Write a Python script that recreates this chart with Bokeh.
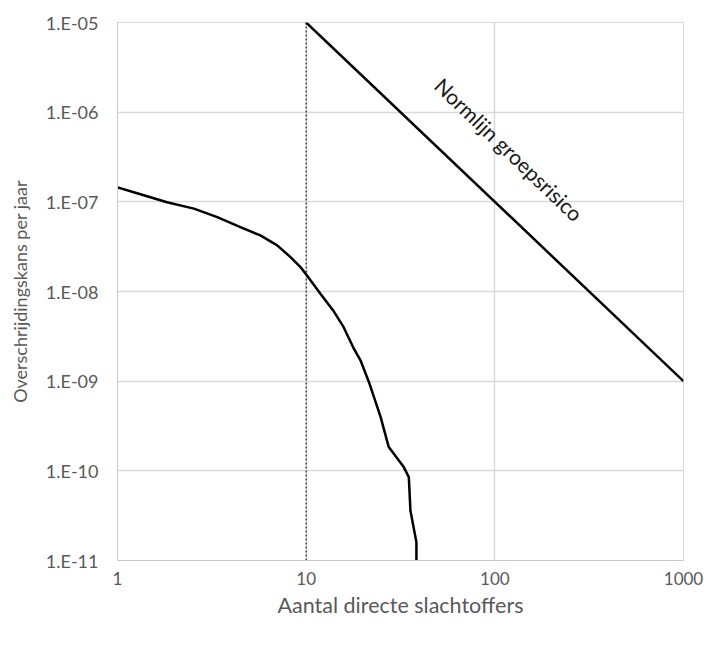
from bokeh.plotting import figure
from bokeh.models import FixedTicker, CustomJSTickFormatter, Range1d
from bokeh.core.properties import value
from bokeh.embed import file_html
from bokeh.resources import INLINE

# FN-curve
fn_x = [1.0, 1.22, 1.83, 2.54, 3.38, 4.48, 5.72, 7.02, 8.26, 9.33, 10.1, 11.9, 13.9,
        15.8, 17.9, 19.4, 21.5, 24.8, 27.4, 32.9, 35.0, 35.7, 38.4, 38.4]
fn_y = [1.45e-7, 1.28e-7, 9.9e-8, 8.4e-8, 6.75e-8, 5.22e-8, 4.22e-8, 3.27e-8, 2.42e-8, 1.87e-8, 1.51e-8, 9.45e-9, 6.15e-9,
        4.0e-9, 2.3e-9, 1.71e-9, 9.8e-10, 4.0e-10, 1.84e-10, 1.1e-10, 8.5e-11, 3.6e-11, 1.6e-11, 1.0e-11]

# Normlijn groepsrisico
norm_x = [10, 1000]
norm_y = [1e-5, 1e-9]

# vertical reference line at N = 10
ref_x = [10, 10]
ref_y = [1e-11, 1e-5]

x_ticks = [1, 10, 100, 1000]
y_ticks = [1e-11, 1e-10, 1e-9, 1e-8, 1e-7, 1e-6, 1e-5]

label_text = ["Normlijn groepsrisico"]
label_x = [119]
label_y = [3.85e-7]

FONT = "Lato"
GREY = "#595959"

p = figure(width=714, height=645, x_axis_type="log", y_axis_type="log",
           x_range=Range1d(1, 1000), y_range=Range1d(1e-11, 1e-5),
           output_backend="svg", toolbar_location=None,
           min_border_left=117, min_border_right=31, min_border_top=22, min_border_bottom=85)

p.outline_line_color = "#d9d9d9"
p.background_fill_color = "white"
p.border_fill_color = "white"

for ax in (p.xaxis[0], p.yaxis[0]):
    ax.axis_line_color = "#c8c8c8"
    ax.major_tick_line_color = None
    ax.minor_tick_line_color = None
    ax.major_label_text_font = FONT
    ax.major_label_text_color = GREY
    ax.axis_label_text_font = FONT
    ax.axis_label_text_color = GREY
    ax.axis_label_text_font_style = "normal"

p.xaxis.major_label_text_font_size = "17px"
p.yaxis.major_label_text_font_size = "18px"
p.xaxis.axis_label_text_font_size = "21.5px"
p.yaxis.axis_label_text_font_size = "18px"

p.xaxis.ticker = FixedTicker(ticks=x_ticks)
p.yaxis.ticker = FixedTicker(ticks=y_ticks)
p.xaxis.formatter = CustomJSTickFormatter(code="return String(Math.round(tick));")
p.yaxis.formatter = CustomJSTickFormatter(code="""
const e = Math.round(Math.log10(tick));
return "1.E" + (e < 0 ? "-" : "+") + String(Math.abs(e)).padStart(2, "0");
""")
p.xaxis.major_label_standoff = 5
p.yaxis.major_label_standoff = 13
p.xaxis.axis_label = "Aantal directe slachtoffers"
p.yaxis.axis_label = "Overschrijdingskans per jaar"
p.xaxis.axis_label_standoff = 4
p.yaxis.axis_label_standoff = 12

p.xgrid.ticker = FixedTicker(ticks=x_ticks)
p.ygrid.ticker = FixedTicker(ticks=y_ticks)
p.xgrid.grid_line_color = "#d9d9d9"
p.ygrid.grid_line_color = "#d9d9d9"
p.xgrid.grid_line_width = 1.5
p.ygrid.grid_line_width = 1.5

p.line(ref_x, ref_y, line_color="black", line_width=1, line_dash="2 2")
p.line(norm_x, norm_y, line_color="black", line_width=2.5)
p.line(fn_x, fn_y, line_color="black", line_width=2.5)

p.text(x=label_x, y=label_y, text=label_text, angle=-0.765,
       text_font=value(FONT), text_font_size="21px", text_color="#1a1a1a",
       text_align="center", text_baseline="middle")

open("out.html", "w").write(file_html(p, INLINE))
